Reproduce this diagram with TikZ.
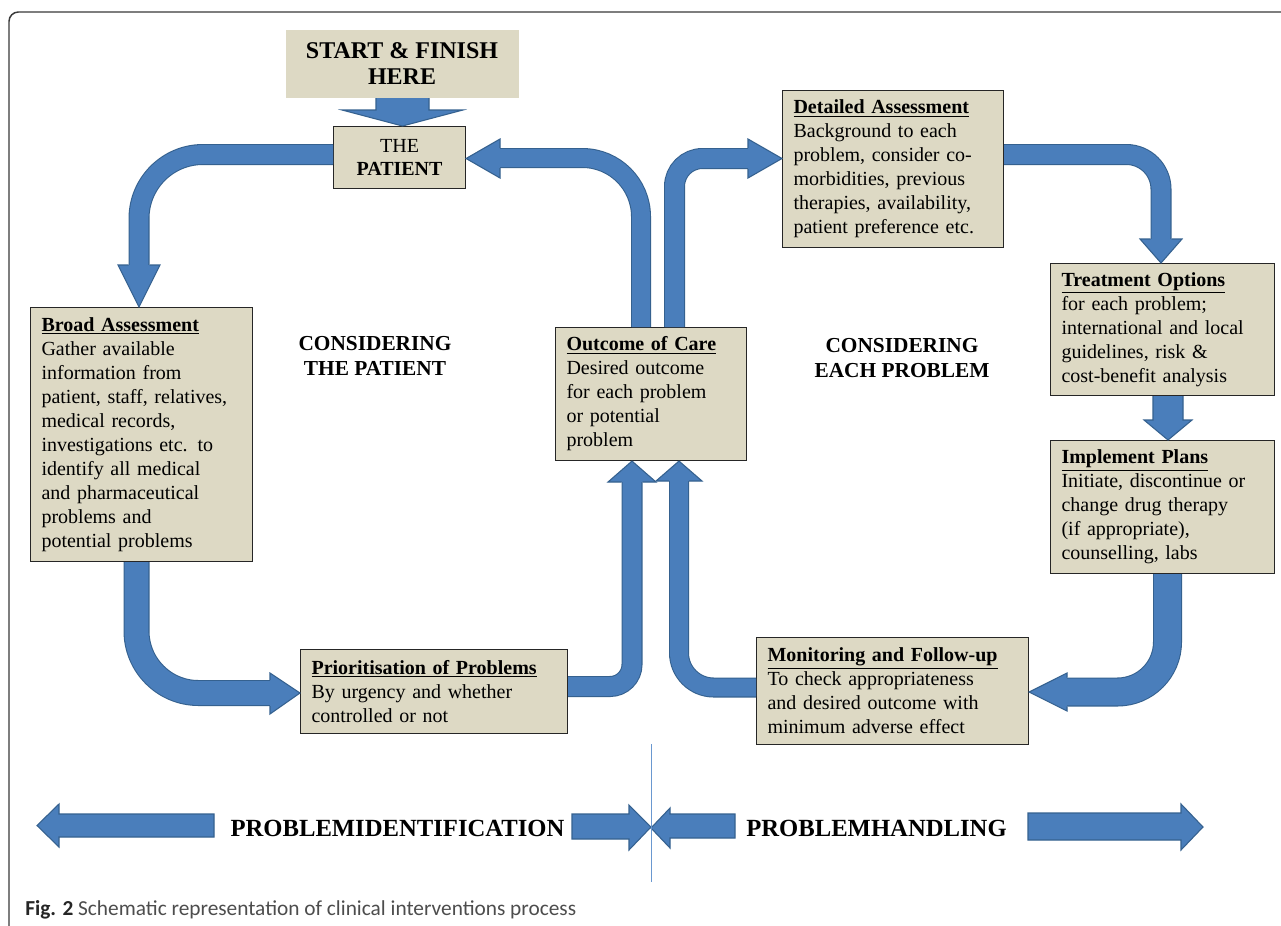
\documentclass[tikz,border=0pt]{standalone}
\usepackage{fontspec}
\setmainfont{Liberation Serif}
\newfontfamily\capfont{Carlito}
\usetikzlibrary{calc}
\definecolor{boxfill}{HTML}{DDD9C4}
\definecolor{bandfill}{HTML}{4A7EBB}
\definecolor{bandedge}{HTML}{35618F}
\definecolor{framecol}{HTML}{3A3A3A}
\definecolor{capgray}{HTML}{4D4D4D}
\definecolor{axisline}{HTML}{6A98D0}
\begin{document}
\begin{tikzpicture}[x=0.75pt,y=-0.75pt,
  box/.style={draw=black!85, line width=0.8pt, fill=boxfill, anchor=north west,
    inner xsep=8.25pt, inner ysep=0pt, align=left, font=\fontsize{15}{18}\selectfont},
  band/.style={draw=bandedge, line width=0.8pt, double=bandfill, double distance=#1},
  head/.style={fill=bandfill, draw=bandedge, line width=0.8pt, line join=miter},
  biglabel/.style={font=\bfseries\fontsize{16}{18.75}\selectfont, align=center},
  axislabel/.style={font=\bfseries\fontsize{18.5}{20}\selectfont, inner sep=0pt}]
\useasboundingbox (0,0) rectangle (1281,925);
\clip (0,0) rectangle (1281,925);
\fill[white] (0,0) rectangle (1281,925);
\draw[framecol, line width=1.1pt, rounded corners=7pt] (9,940) -- (9,12) -- (1300,12);

% nodes
\node[box, draw=none, align=center, minimum width=174.75pt, minimum height=51pt,
  font=\bfseries\fontsize{18}{20}\selectfont] (start) at (285,29) {START \& FINISH\\HERE};
\node[box, align=center, minimum width=99pt, minimum height=46.5pt,
  font=\fontsize{15}{17.25}\selectfont] (patient) at (333,126) {THE\\\textbf{PATIENT}};
\node[box, minimum width=166.5pt, minimum height=190.5pt, text width=150pt] (broad) at (30,307)
  {\underline{\textbf{Broad Assessment}}\\ Gather available\\ information from\\ patient, staff, relatives,\\ medical records,\\ investigations etc. to\\ identify all medical\\ and pharmaceutical\\ problems and\\ potential problems};
\node[box, minimum width=143.25pt, minimum height=99.75pt, text width=126.75pt] (outcome) at (555,327)
  {\underline{\textbf{Outcome of Care}}\\ Desired outcome\\ for each problem\\ or potential\\ problem};
\node[box, minimum width=200.25pt, minimum height=63pt, text width=183.75pt] (prio) at (300,649)
  {\underline{\textbf{Prioritisation of Problems}}\\ By urgency and whether\\ controlled or not};
\node[box, minimum width=204pt, minimum height=80.25pt, text width=187.5pt] (monit) at (756,637)
  {\underline{\textbf{Monitoring and Follow-up}}\\ To check appropriateness\\ and desired outcome with\\ minimum adverse effect};
\node[box, minimum width=168pt, minimum height=99.75pt, text width=151.5pt] (implement) at (1050,440)
  {\underline{\textbf{Implement Plans}}\\ Initiate, discontinue or\\ change drug therapy\\ (if appropriate),\\ counselling, labs};
\node[box, minimum width=168pt, minimum height=99pt, text width=151.5pt] (treat) at (1050,263)
  {\underline{\textbf{Treatment Options}}\\ for each problem;\\ international and local\\ guidelines, risk \&\\ cost-benefit analysis};
\node[box, minimum width=165.75pt, minimum height=117.75pt, text width=149.25pt] (detailed) at (782,90)
  {\underline{\textbf{Detailed Assessment}}\\ Background to each\\ problem, consider co-\\ morbidities, previous\\ therapies, availability,\\ patient preference etc.};

\node[biglabel] (lpat) at (375,355.5) {CONSIDERING\\THE PATIENT};
\node[biglabel] (lprob) at (902,358) {CONSIDERING\\EACH PROBLEM};

% connectors
% start -> patient
\filldraw[head] (start.south -| 376,0) -- (376,110) -- (342,110) -- (patient.north -| 402.5,0) -- (463,110) -- (429,110) -- (start.south -| 429,0);
% patient -> broad
\draw[band=14.15pt, rounded corners=48pt] (patient.west |- 0,154.5) -- (139,154.5) -- (139,266);
\filldraw[head] (128.5,265) -- (118,265) -- (139,0 |- broad.north) -- (160,265) -- (149.5,265);
% broad -> prio
\draw[band=17.9pt, rounded corners=46.5pt] (broad.south -| 136.5,0) -- (136.5,693) -- (271,693);
\filldraw[head] (270,680) -- (270,673) -- (prio.west |- 0,693) -- (270,714) -- (270,706);
% prio -> outcome
\draw[band=14.15pt, rounded corners=16.5pt] (prio.east |- 0,686.5) -- (632,686.5) -- (632,481);
\filldraw[head] (621.5,482) -- (608,482) -- (outcome.south -| 632,0) -- (656,482) -- (642.5,482);
% monitoring -> outcome
\draw[band=13.4pt, rounded corners=26pt] (monit.west |- 0,687.5) -- (679,687.5) -- (679,480);
\filldraw[head] (669,481) -- (656,481) -- (outcome.south -| 679,0) -- (702,481) -- (689,481);
% outcome -> patient
\draw[band=13.4pt, rounded corners=44pt] (outcome.north -| 641,0) -- (641,158) -- (499,158);
\filldraw[head] (500,148) -- (500,139) -- (patient.east |- 0,158.5) -- (500,178) -- (500,168);
% outcome -> detailed
\draw[band=14.15pt, rounded corners=21pt] (outcome.north -| 674.5,0) -- (674.5,158.5) -- (749,158.5);
\filldraw[head] (748,148) -- (748,139) -- (detailed.west |- 0,158.5) -- (748,178) -- (748,169);
% detailed -> treatment
\draw[band=14.15pt, rounded corners=26pt] (detailed.east |- 0,154.5) -- (1161,154.5) -- (1161,240);
\filldraw[head] (1150.5,239) -- (1140,239) -- (treat.north -| 1161,0) -- (1182,239) -- (1171.5,239);
% treatment -> implement
\filldraw[head] (treat.south -| 1153,0) -- (1153,420) -- (1144,420) -- (implement.north -| 1168,0) -- (1192,420) -- (1183,420) -- (treat.south -| 1183,0);
% implement -> monitoring
\draw[band=20.15pt, rounded corners=37.5pt] (implement.south -| 1167.5,0) -- (1167.5,692) -- (1066,692);
\filldraw[head] (1067,677.5) -- (1067,673) -- (monit.east |- 0,692) -- (1067,711) -- (1067,706.5);

% bottom axis
\filldraw[head] (214,814) -- (59,814) -- (59,804) -- (37,825.5) -- (59,847) -- (59,837) -- (214,837) -- cycle;
\filldraw[head] (572,814) -- (629,814) -- (629,805) -- (651,827) -- (629,850) -- (629,839) -- (572,839) -- cycle;
\filldraw[head] (735,814) -- (670,814) -- (670,808) -- (651,828) -- (670,848) -- (670,838) -- (735,838) -- cycle;
\filldraw[head] (1028,813) -- (1181,813) -- (1181,804) -- (1203,827) -- (1181,850) -- (1181,840) -- (1028,840) -- cycle;
\draw[axisline, line width=0.7pt] (651,744) -- (651,882);
\node[axislabel] (pid) at (397.5,828) {PROBLEMIDENTIFICATION};
\node[axislabel] (phd) at (876.5,828) {PROBLEMHANDLING};

% caption
\node[anchor=west, inner sep=0pt, text=capgray, font=\capfont\fontsize{16}{18}\selectfont] (cap) at (25,910)
  {{\color{black!85}\textbf{Fig. 2}} Schematic representation of clinical interventions process};
\end{tikzpicture}
\end{document}
